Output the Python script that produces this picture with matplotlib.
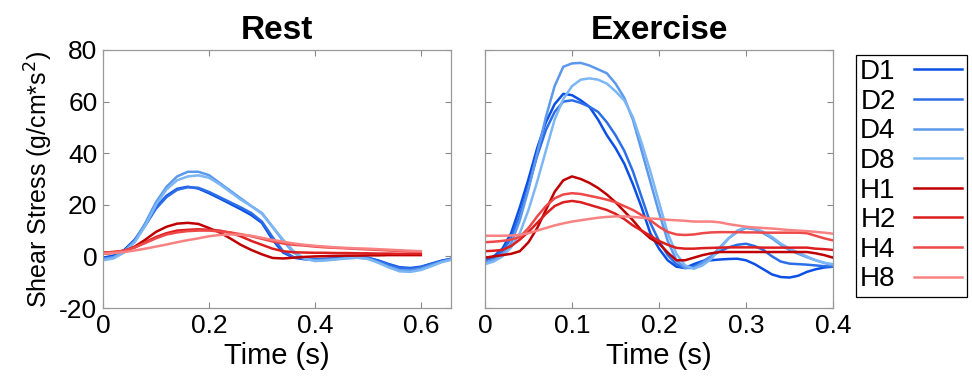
import numpy as np
import matplotlib
matplotlib.use('Agg')
import matplotlib.pyplot as plt

plt.rcParams['font.family'] = ['Liberation Sans', 'DejaVu Sans']
plt.rcParams['axes.unicode_minus'] = False

# Tempos (s)
t_rest = np.arange(34) * 0.02       # 0 .. 0.66
t_rest_h = t_rest[:31]              # 0 .. 0.60
t_ex = np.arange(41) * 0.01         # 0 .. 0.40

labels = ['D1', 'D2', 'D4', 'D8', 'H1', 'H2', 'H4', 'H8']
colors = ['#0a50e6', '#2c6ee8', '#5c98ec', '#7cb6f4',
          '#c00000', '#dc1e1e', '#ee4848', '#f88282']

# Repouso
rest_D1 = [-0.5, 0.3, 2.5, 6.5, 12.5, 19, 23.5, 26.2, 27, 26.3, 24.5, 22.5, 20.4, 18.3,
           16, 13, 6.5, 1.5, -0.5, -1.1, -1.2, -1, -0.7, -0.4, -0.3, -0.5, -1.6, -3,
           -4.2, -4.5, -4, -2.8, -1.6, -0.8]
rest_D2 = [-1, -0.3, 2, 6, 12, 18.5, 23, 25.8, 26.8, 26.6, 25, 23, 21, 19, 16.8, 13.5,
           7.5, 2, -0.3, -0.9, -1, -1, -0.8, -0.5, -0.4, -0.5, -1.8, -3.2, -4.5, -4.8,
           -4.2, -3, -1.8, -0.9]
rest_D4 = [-1, -0.3, 2, 6, 13, 21, 27, 31, 32.8, 32.8, 31.5, 28.5, 25.5, 22.5, 19.5,
           16.8, 11.5, 6, 1.5, -1, -1.5, -1.3, -1, -0.7, -0.5, -0.8, -2.3, -4, -5.3,
           -5.5, -4.8, -3.4, -2, -1]
rest_D8 = [-1.5, -0.8, 1.5, 5.5, 12, 20, 26, 29.5, 31, 31.4, 30.5, 28, 25, 22, 19.5,
           16.5, 11.5, 6.5, 2, -0.8, -1.8, -1.6, -1.2, -0.8, -0.5, -1, -2.5, -4.3, -5.8,
           -6, -5.3, -3.8, -2.2, -1.2]
rest_H1 = [1, 1.4, 2, 3.8, 6.5, 9.5, 11.5, 12.7, 13, 12.6, 11, 9.3, 7, 4.5, 2.5, 0.8,
           -0.6, -0.8, -0.5, -0.2, 0, 0.1, 0.2, 0.3, 0.3, 0.4, 0.4, 0.5, 0.5, 0.5, 0.5]
rest_H2 = [1.5, 1.7, 2.2, 3.5, 5.5, 7.5, 9, 10, 10.3, 10.5, 10.3, 10, 9.2, 7.8, 6, 4.5,
           3, 2, 1.6, 1.5, 1.4, 1.4, 1.3, 1.3, 1.2, 1.2, 1.1, 1.1, 1, 1, 1]
rest_H4 = [1.5, 1.7, 2.2, 3.5, 5.2, 7, 8.5, 9.3, 9.8, 10, 10, 9.7, 9.3, 8.6, 7.8, 6.8,
           5.8, 5, 4.5, 4.2, 3.8, 3.5, 3.3, 3.1, 2.9, 2.7, 2.5, 2.3, 2.1, 1.9, 1.8]
rest_H8 = [1, 1.3, 1.7, 2.3, 3, 3.8, 4.6, 5.5, 6.3, 7, 7.8, 8.3, 8.5, 8.4, 8, 7.2, 6.4,
           5.7, 5, 4.5, 4.1, 3.8, 3.5, 3.3, 3.1, 3, 2.8, 2.6, 2.4, 2.2, 2]

# Exercicio
ex_D1 = [-1, 0, 3, 9, 19, 30, 42, 52, 59, 63, 62.5, 60.5, 58, 53, 47, 42, 36, 28, 19, 9,
         3, -1.5, -4, -4.5, -3, -1.8, -1.5, -1.2, -1, -0.9, -1.5, -3, -5, -7, -8, -8.2,
         -7.5, -6, -5, -4.3, -4]
ex_D2 = [-1.5, -0.5, 2, 7, 16, 27, 39, 49, 56, 60, 60.5, 59.5, 58, 56, 52, 47, 41, 33,
         23, 13, 6, 0.5, -3, -4.5, -4, -2, 0, 2, 3.5, 4.5, 4.9, 4, 2.5, 0, -2, -2.8, -3,
         -3.2, -3.5, -3.8, -4]
ex_D4 = [-2.5, -1.5, 1, 5, 14, 26, 40, 54, 66, 73.5, 74.8, 75, 74, 72.5, 71, 67, 61.5,
         53, 41, 29, 17, 6, -1.5, -4.5, -4.5, -2.5, 0, 3.5, 7, 9.5, 11, 10.5, 9, 7, 4.5,
         2.5, 1, -0.3, -1.5, -2.5, -3.5]
ex_D8 = [-3, -2, 0, 3.5, 9, 18, 29, 41, 53, 61, 66, 68.5, 69, 68.5, 67, 64, 60.5, 54, 44,
         33, 21, 9, 1, -3.5, -4.8, -3.5, -1, 3, 7, 10, 11.4, 11, 9.5, 7.5, 5, 3, 1.5, 0,
         -1.5, -2.5, -3]
ex_H1 = [-0.5, 0, 0.5, 1, 2, 5.5, 11, 18, 25, 29.5, 31, 30, 28.5, 26.5, 24, 21, 17.5, 14,
         10, 7, 5, 1.5, -1.5, -1.5, -0.5, 0.5, 1.2, 1.7, 1.7, 1.7, 1.7, 1.7, 1.7, 1.7,
         1.7, 1.7, 1.7, 1.7, 1.2, 0.5, -0.5]
ex_H2 = [2, 2.2, 2.5, 4, 6.5, 9.5, 13, 16.5, 19.5, 21, 21.5, 21, 20, 19, 18, 16.5, 14.5,
         12, 10, 8, 6, 4.5, 3.3, 3, 3, 3.2, 3.3, 3.4, 3.5, 3.5, 3.5, 3.5, 3.4, 3.4, 3.4,
         3.4, 3.4, 3.4, 3, 2.8, 2.5]
ex_H4 = [5.5, 5.7, 6, 6.5, 7.5, 11, 15.5, 19.5, 22.5, 24, 24.5, 24.2, 23.5, 22.8, 22, 21,
         19.5, 18, 16, 14, 11.5, 9.5, 8.5, 8.3, 8.5, 9, 9.3, 9.4, 9.4, 9.4, 9.3, 9.3, 9.2,
         9.2, 9.2, 9.2, 9.2, 9, 8, 7, 6.2]
ex_H8 = [8, 8, 8, 8.1, 8.3, 9, 10, 11, 12, 12.8, 13.5, 14, 14.5, 15, 15.3, 15.5, 15.5,
         15.3, 15, 14.7, 14.5, 14.2, 14, 13.8, 13.5, 13.5, 13.5, 13.2, 12.5, 12, 11.5,
         11.2, 11, 10.8, 10.5, 10.2, 10, 9.8, 9.5, 9.2, 8.8]

rest = [rest_D1, rest_D2, rest_D4, rest_D8, rest_H1, rest_H2, rest_H4, rest_H8]
exercise = [ex_D1, ex_D2, ex_D4, ex_D8, ex_H1, ex_H2, ex_H4, ex_H8]

fig = plt.figure(figsize=(9.72, 3.86), dpi=100)
ax1 = fig.add_axes([103 / 972, 1 - 308 / 386, 348 / 972, 258 / 386])
ax2 = fig.add_axes([485 / 972, 1 - 308 / 386, 348 / 972, 258 / 386])

lines = []
for i in range(8):
    tt = t_rest if i < 4 else t_rest_h
    ax1.plot(tt, rest[i], color=colors[i], lw=1.8, solid_joinstyle='round')
    ln, = ax2.plot(t_ex, exercise[i], color=colors[i], lw=1.8, solid_joinstyle='round')
    lines.append(ln)

for ax in (ax1, ax2):
    ax.set_ylim(-20, 80)
    ax.set_yticks([-20, 0, 20, 40, 60, 80])
    ax.tick_params(direction='in', top=True, right=True, length=4, width=0.8,
                   color='#888888', labelsize=19, pad=4)
    for s in ax.spines.values():
        s.set_color('#999999')
        s.set_linewidth(0.9)
    ax.set_xlabel('Time (s)', fontsize=21, labelpad=3)

ax1.set_xlim(0, 0.657)
ax1.set_xticks([0, 0.2, 0.4, 0.6])
ax1.set_xticklabels(['0', '0.2', '0.4', '0.6'])
ax1.set_ylabel('Shear Stress (g/cm*s$^2$)', fontsize=18, labelpad=3)
ax1.set_title('Rest', fontsize=24, fontweight='bold', pad=8)

ax2.set_xlim(0, 0.4)
ax2.set_xticks([0, 0.1, 0.2, 0.3, 0.4])
ax2.set_xticklabels(['0', '0.1', '0.2', '0.3', '0.4'])
ax2.set_yticklabels([])
ax2.set_title('Exercise', fontsize=24, fontweight='bold', pad=8)

leg = fig.legend(lines, labels, loc='upper left', bbox_to_anchor=(856 / 972, 1 - 55 / 386),
                 fontsize=20, markerfirst=False, fancybox=False, edgecolor='black',
                 framealpha=1, handlelength=1.75, handletextpad=0.65, labelspacing=0.13,
                 borderpad=0.15, borderaxespad=0)
leg.get_frame().set_linewidth(0.9)

fig.savefig('out.png', dpi=100)
